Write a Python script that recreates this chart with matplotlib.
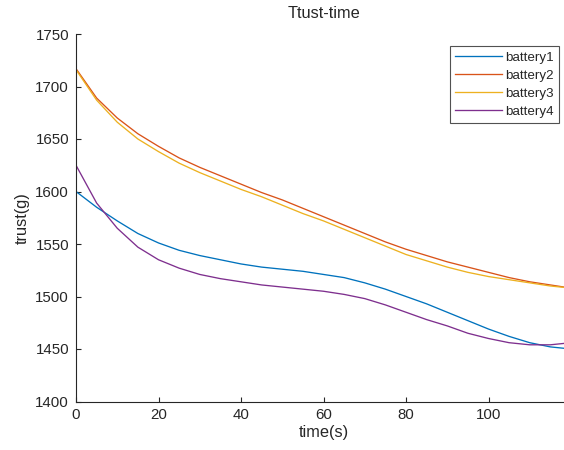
import matplotlib
matplotlib.use("Agg")
import matplotlib.pyplot as plt

# time axis and thrust readings (g)
time = [0, 5, 10, 15, 20, 25, 30, 35, 40, 45, 50, 55, 60,
        65, 70, 75, 80, 85, 90, 95, 100, 105, 110, 115, 120]
battery1 = [1600, 1585, 1572, 1560, 1551, 1544, 1539, 1535, 1531, 1528, 1526, 1524, 1521,
            1518, 1513, 1507, 1500, 1493, 1485, 1477, 1469, 1462, 1456, 1452, 1450]
battery2 = [1717, 1689, 1670, 1655, 1643, 1632, 1623, 1615, 1607, 1599, 1592, 1584, 1576,
            1568, 1560, 1552, 1545, 1539, 1533, 1528, 1523, 1518, 1514, 1511, 1508]
battery3 = [1716, 1687, 1666, 1650, 1638, 1627, 1618, 1610, 1602, 1595, 1587, 1579, 1572,
            1564, 1556, 1548, 1540, 1534, 1528, 1523, 1519, 1516, 1513, 1510, 1508]
battery4 = [1625, 1589, 1565, 1547, 1535, 1527, 1521, 1517, 1514, 1511, 1509, 1507, 1505,
            1502, 1498, 1492, 1485, 1478, 1472, 1465, 1460, 1456, 1454, 1454, 1456]

series = [battery1, battery2, battery3, battery4]
names = ["battery1", "battery2", "battery3", "battery4"]
colors = ["#0072BD", "#D95319", "#EDB120", "#7E2F8E"]

plt.rcParams['font.family'] = ['Liberation Sans', 'DejaVu Sans']
txt = "#262626"

W, H = 564, 450
fig = plt.figure(figsize=(W / 100, H / 100), dpi=100)
# axes placed in pixel terms, right part runs past the figure edge
x0, x1 = 76, 76 + 120 * 4.125
ytop, ybot = 34, 401.5
ax = fig.add_axes([x0 / W, 1 - ybot / H, (x1 - x0) / W, (ybot - ytop) / H])

for s, n, c in zip(series, names, colors):
    ax.plot(time, s, color=c, lw=0.95, label=n)

ax.set_xlim(0, 120)
ax.set_ylim(1400, 1750)
ax.set_xticks([0, 20, 40, 60, 80, 100])
ax.set_yticks(range(1400, 1751, 50))

ax.spines["top"].set_visible(False)
ax.spines["right"].set_visible(False)
for sp in ["left", "bottom"]:
    ax.spines[sp].set_color(txt)
    ax.spines[sp].set_linewidth(0.8)
ax.tick_params(direction="in", length=3.8, width=0.8, colors=txt, labelsize=10.8, pad=5)

ax.set_xlabel("time(s)", fontsize=11.8, color=txt, labelpad=2)
ax.set_ylabel("trust(g)", fontsize=11.8, color=txt, labelpad=4)
fig.text(324 / W, 1 - 14 / H, "Ttust-time", ha="center", va="center", fontsize=11.8, color=txt)

leg = ax.legend(loc="upper right", bbox_to_anchor=(559.3 / W, 1 - 46 / H),
                bbox_transform=fig.transFigure, borderaxespad=0, fontsize=9.6,
                frameon=True, fancybox=False, handlelength=3.5, handletextpad=0.25,
                labelspacing=0.43, borderpad=0.4)
leg.get_frame().set_edgecolor(txt)
leg.get_frame().set_linewidth(0.8)
for t in leg.get_texts():
    t.set_color(txt)

fig.savefig("out.png", dpi=100)
